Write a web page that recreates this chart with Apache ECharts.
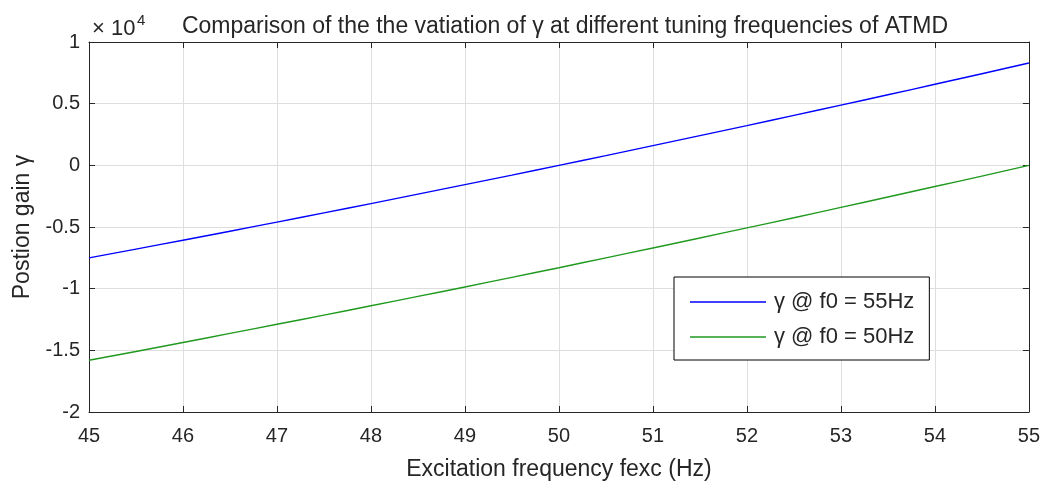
<!DOCTYPE html>
<html>
<head>
<meta charset="utf-8">
<script src="https://cdn.jsdelivr.net/npm/echarts@6/dist/echarts.min.js"></script>
<style>html,body{margin:0;padding:0;background:#fff}#c{width:1043px;height:486px}</style>
</head>
<body>
<div id="c"></div>
<script>
// Excitation frequency (Hz)
const freq = [45,45.5,46,46.5,47,47.5,48,48.5,49,49.5,50,50.5,51,51.5,52,52.5,53,53.5,54,54.5,55];
// gamma @ f0 = 55Hz (blue), raw values
const gamma55 = [-7500,-6790,-6070,-5340,-4600,-3850,-3100,-2330,-1560,-790,0,790,1600,2410,3220,4050,4880,5720,6570,7430,8300];
// gamma @ f0 = 50Hz (green), raw values
const gamma50 = [-15800,-15090,-14360,-13630,-12890,-12150,-11390,-10630,-9860,-9080,-8300,-7500,-6700,-5890,-5070,-4250,-3410,-2570,-1720,-870,0];
const xTicks = [45,46,47,48,49,50,51,52,53,54,55];
const yTicks = [-2,-1.5,-1,-0.5,0,0.5,1]; // x 10^4
const seriesNames = ['γ @ f0 = 55Hz','γ @ f0 = 50Hz'];
const colors = ['#0000ff','#1f9a1f'];

const font = '"Liberation Sans", Arial, sans-serif';
const dark = '#262626';
const chart = echarts.init(document.getElementById('c'));
const toPairs = (ys) => freq.map((f,i)=>[f, ys[i]]);

const tickCommon = {show:true,inside:true,length:6,lineStyle:{color:dark}};
const lineCommon = {show:true,onZero:false,lineStyle:{color:dark,width:1}};

chart.setOption({
  animation:false,
  textStyle:{fontFamily:font},
  title:{
    text:'Comparison of the the vatiation of γ at different tuning frequencies of ATMD',
    left:560, top:10, textAlign:'center',
    textStyle:{fontFamily:font,fontSize:23,fontWeight:'normal',color:dark}
  },
  graphic:[
    {type:'text', left:92, top:18, style:{text:'× 10', fontFamily:font, fontSize:22, fill:dark}},
    {type:'text', left:137, top:13, style:{text:'4', fontFamily:font, fontSize:15, fill:dark}}
  ],
  legend:{
    orient:'vertical', left:674, top:277,
    backgroundColor:'#fff', borderColor:'#000', borderWidth:1,
    padding:[14,15,12,16], itemGap:13, itemWidth:76, itemHeight:1.6,
    icon:'rect',
    textStyle:{fontFamily:font,fontSize:22,lineHeight:20,color:dark,padding:[0,0,0,3]},
    data:seriesNames
  },
  grid:{left:89, right:13, top:42, bottom:72},
  xAxis:[{
    type:'value', min:45, max:55, interval:1,
    name:'Excitation frequency fexc (Hz)', nameLocation:'middle', nameGap:46,
    nameTextStyle:{fontFamily:font,fontSize:23,color:dark},
    axisLine:lineCommon, axisTick:tickCommon,
    axisLabel:{fontFamily:font,fontSize:20,color:dark,margin:14},
    splitLine:{show:true,lineStyle:{color:'#dedede',width:1}}
  },{
    type:'value', min:45, max:55, interval:1, position:'top',
    axisLine:lineCommon, axisTick:tickCommon,
    axisLabel:{show:false}, splitLine:{show:false}
  }],
  yAxis:[{
    type:'value', min:-20000, max:10000, interval:5000,
    name:'Postion gain γ', nameLocation:'middle', nameGap:53,
    nameTextStyle:{fontFamily:font,fontSize:23,color:dark},
    axisLine:lineCommon, axisTick:tickCommon,
    axisLabel:{fontFamily:font,fontSize:20,color:dark,margin:9,
      formatter:(v)=>String(Math.round(v/1000)/10)},
    splitLine:{show:true,lineStyle:{color:'#dedede',width:1}}
  },{
    type:'value', min:-20000, max:10000, interval:5000, position:'right',
    axisLine:lineCommon, axisTick:tickCommon,
    axisLabel:{show:false}, splitLine:{show:false}
  }],
  series:[
    {name:seriesNames[0], type:'line', data:toPairs(gamma55), symbol:'none', smooth:true,
     lineStyle:{color:colors[0],width:1.4}, itemStyle:{color:colors[0]}},
    {name:seriesNames[1], type:'line', data:toPairs(gamma50), symbol:'none', smooth:true,
     lineStyle:{color:colors[1],width:1.4}, itemStyle:{color:colors[1]}}
  ]
});
</script>
</body>
</html>
